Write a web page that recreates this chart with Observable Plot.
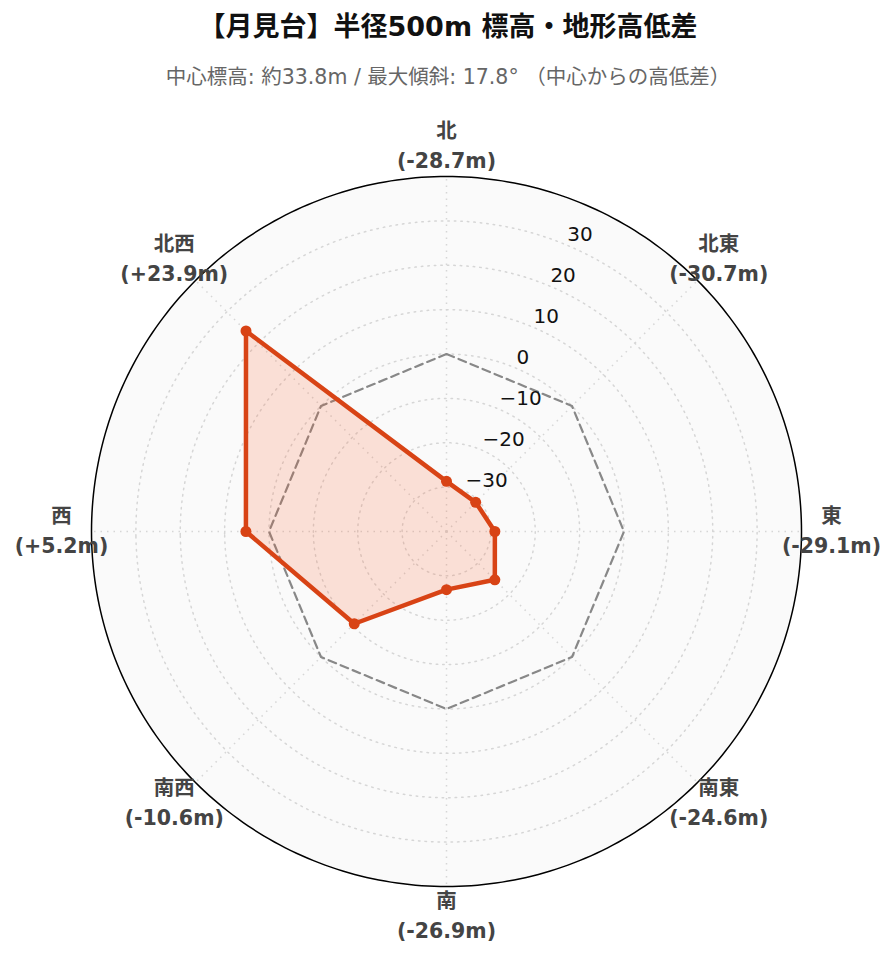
<!DOCTYPE html>
<html>
<head>
<meta charset="utf-8">
<script src="https://cdn.jsdelivr.net/npm/d3@7"></script>
<script src="https://cdn.jsdelivr.net/npm/@observablehq/plot@0.6"></script>
<style>
  html, body { margin: 0; padding: 0; background: #fff; }
  #wrap { width: 896px; font-family: 'DejaVu Sans', 'Noto Sans CJK JP', sans-serif; }
  #title { height: 54px; line-height: 54px; text-align: center; font-size: 27px; font-weight: bold; color: #111; }
  #subtitle { height: 46px; line-height: 46px; text-align: center; font-size: 20.5px; color: #666; }
  svg { display: block; }
</style>
</head>
<body>
<div id="wrap">
  <div id="title">【月見台】半径500m 標高・地形高低差</div>
  <div id="subtitle">中心標高: 約33.8m / 最大傾斜: 17.8° （中心からの高低差）</div>
  <div id="chart"></div>
</div>
<script>
// ---- data ----
const directions = ["北", "北東", "東", "南東", "南", "南西", "西", "北西"];
const elevationDiff = [-28.7, -30.7, -29.1, -24.6, -26.9, -10.6, 5.2, 23.9];
const radialTicks = [-30, -20, -10, 0, 10, 20, 30];
const radialRange = [-40, 40];

// ---- build ----
const R = 1; // angular radius (deg) of the polar disc
const rScale = d3.scaleLinear(radialRange, [0, R]);
const lat = v => 90 - rScale(v);
const lonOf = i => 180 - i * 360 / directions.length;

const rows = directions.map((name, i) => ({name, value: elevationDiff[i], lon: lonOf(i)}));
const fmtVal = v => (v > 0 ? "+" : "") + v.toFixed(1);
const fmtTick = t => (t < 0 ? "\u2212" + Math.abs(t) : String(t));
const color = "#d84315";
const circle = r => d3.geoCircle().center([0, 90]).radius(r).precision(1)();

const chart = Plot.plot({
  width: 896,
  height: 862,
  marginTop: 76,
  marginBottom: 76,
  marginLeft: 91,
  marginRight: 95,
  projection: {type: "azimuthal-equidistant", rotate: [0, -90], domain: circle(R), clip: false},
  style: {fontFamily: "'DejaVu Sans', 'Noto Sans CJK JP', sans-serif", background: "transparent", overflow: "visible"},
  marks: [
    Plot.geo([R], {geometry: r => circle(r), fill: "#fafafa", stroke: "none"}),
    Plot.geo(radialTicks, {geometry: t => circle(rScale(t)), fill: "none", stroke: "#d6d6d6", strokeWidth: 1.5, strokeDasharray: "1.5,5"}),
    Plot.link(rows, {x1: "lon", y1: 90, x2: "lon", y2: 90 - R, stroke: "#d6d6d6", strokeWidth: 1.5, strokeDasharray: "1.5,5"}),
    Plot.geo([R], {geometry: r => circle(r), fill: "none", stroke: "#000", strokeWidth: 1.5}),
    Plot.line(rows, {x: "lon", y: () => lat(0), curve: "linear-closed", stroke: "#888", strokeWidth: 2.2, strokeDasharray: "8,5"}),
    Plot.line(rows, {x: "lon", y: d => lat(d.value), curve: "linear-closed", fill: "#ff5722", fillOpacity: 0.16, stroke: color, strokeWidth: 4.5, strokeLinejoin: "round"}),
    Plot.dot(rows, {x: "lon", y: d => lat(d.value), r: 5.5, fill: color, stroke: "none"}),
    Plot.text(radialTicks, {x: 157.5, y: t => lat(t), text: fmtTick, textAnchor: "start", dx: 2, dy: -10, fontSize: 20, fill: "#111"}),
    Plot.text(rows, {x: "lon", y: 90 - R * 385 / 355, text: d => `${d.name}\n(${fmtVal(d.value)}m)`, lineAnchor: "middle", lineHeight: 1.45, dy: -3, fontSize: 20.5, fontWeight: "bold", fill: "#444"})
  ]
});
document.getElementById("chart").appendChild(chart);
</script>
</body>
</html>
